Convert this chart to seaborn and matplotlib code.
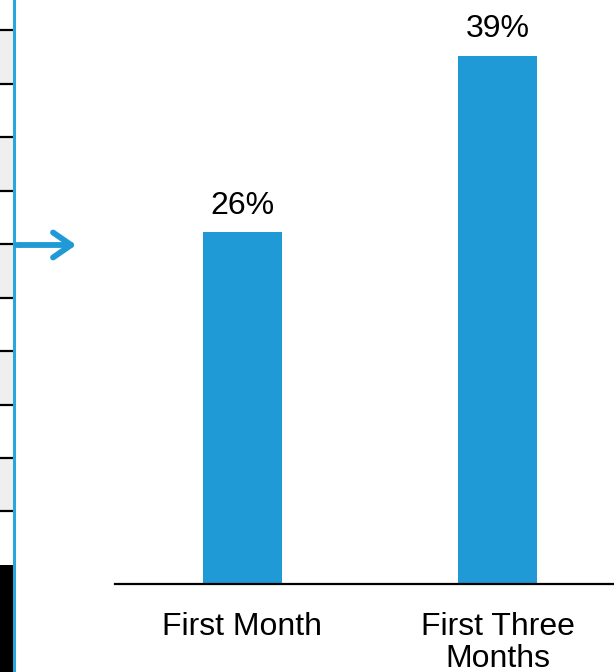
import matplotlib
matplotlib.use("Agg")
import matplotlib.pyplot as plt
import seaborn as sns
import pandas as pd
from matplotlib.patches import Rectangle, FancyArrowPatch
from matplotlib.lines import Line2D

categories = ["First Month", "First Three\nMonths"]
values = [26, 39]
value_labels = ["26%", "39%"]

sns.set_theme(style="white")
plt.rcParams['font.family'] = ['Liberation Sans', 'DejaVu Sans']

W, H = 614, 672
fig = plt.figure(figsize=(W / 100, H / 100), dpi=100)
fig.patch.set_facecolor("white")

def fx(x):
    return x / W

def fy(y):
    return 1 - y / H

# decorative left strip (rows)
lines_y = [30, 84, 137, 191, 244, 298, 351, 405, 458, 511, 565]
for i in range(len(lines_y) - 1):
    if i % 2 == 0:
        y0, y1 = lines_y[i], lines_y[i + 1]
        fig.patches.append(Rectangle((0, fy(y1)), fx(13), fy(y0) - fy(y1),
                                     transform=fig.transFigure, facecolor="#EFEFEF",
                                     edgecolor="none", zorder=1))
for y in lines_y[:-1]:
    fig.lines.append(Line2D([0, fx(13)], [fy(y), fy(y)], transform=fig.transFigure,
                            color="black", lw=1.6, zorder=2))
fig.patches.append(Rectangle((0, 0), fx(13), fy(565), transform=fig.transFigure,
                             facecolor="black", edgecolor="none", zorder=2))
fig.lines.append(Line2D([fx(14), fx(14)], [0, 1], transform=fig.transFigure,
                        color="#2AA6DF", lw=2.2, zorder=3))
fig.patches.append(FancyArrowPatch((fx(14), fy(245)), (fx(79), fy(245)),
                                   transform=fig.transFigure,
                                   arrowstyle="->,head_length=13,head_width=9",
                                   color="#1F9AD6", lw=4.2, mutation_scale=1,
                                   capstyle="round", joinstyle="round", zorder=3))

ax = fig.add_axes([fx(115), fy(584), fx(614) - fx(115), fy(0) - fy(584)])
df = pd.DataFrame({"category": categories, "value": values})
sns.barplot(data=df, x="category", y="value", ax=ax, color="#1F9AD6",
            saturation=1, width=0.31)
for p in ax.patches:
    p.set_edgecolor("none")

ax.set_xlim(-0.5, 1.457)
ax.set_ylim(0, 43.1)
ax.set_xlabel("")
ax.set_ylabel("")
ax.set_yticks([])
for s in ["top", "right", "left"]:
    ax.spines[s].set_visible(False)
ax.spines["bottom"].set_color("black")
ax.spines["bottom"].set_linewidth(1.6)
ax.tick_params(axis="x", length=0, pad=20, labelsize=23, labelcolor="black")
for lbl in ax.get_xticklabels():
    lbl.set_linespacing(1.1)
ax.bar_label(ax.containers[0], labels=value_labels, padding=8, fontsize=23, color="black")

fig.savefig("out.png", dpi=100)
